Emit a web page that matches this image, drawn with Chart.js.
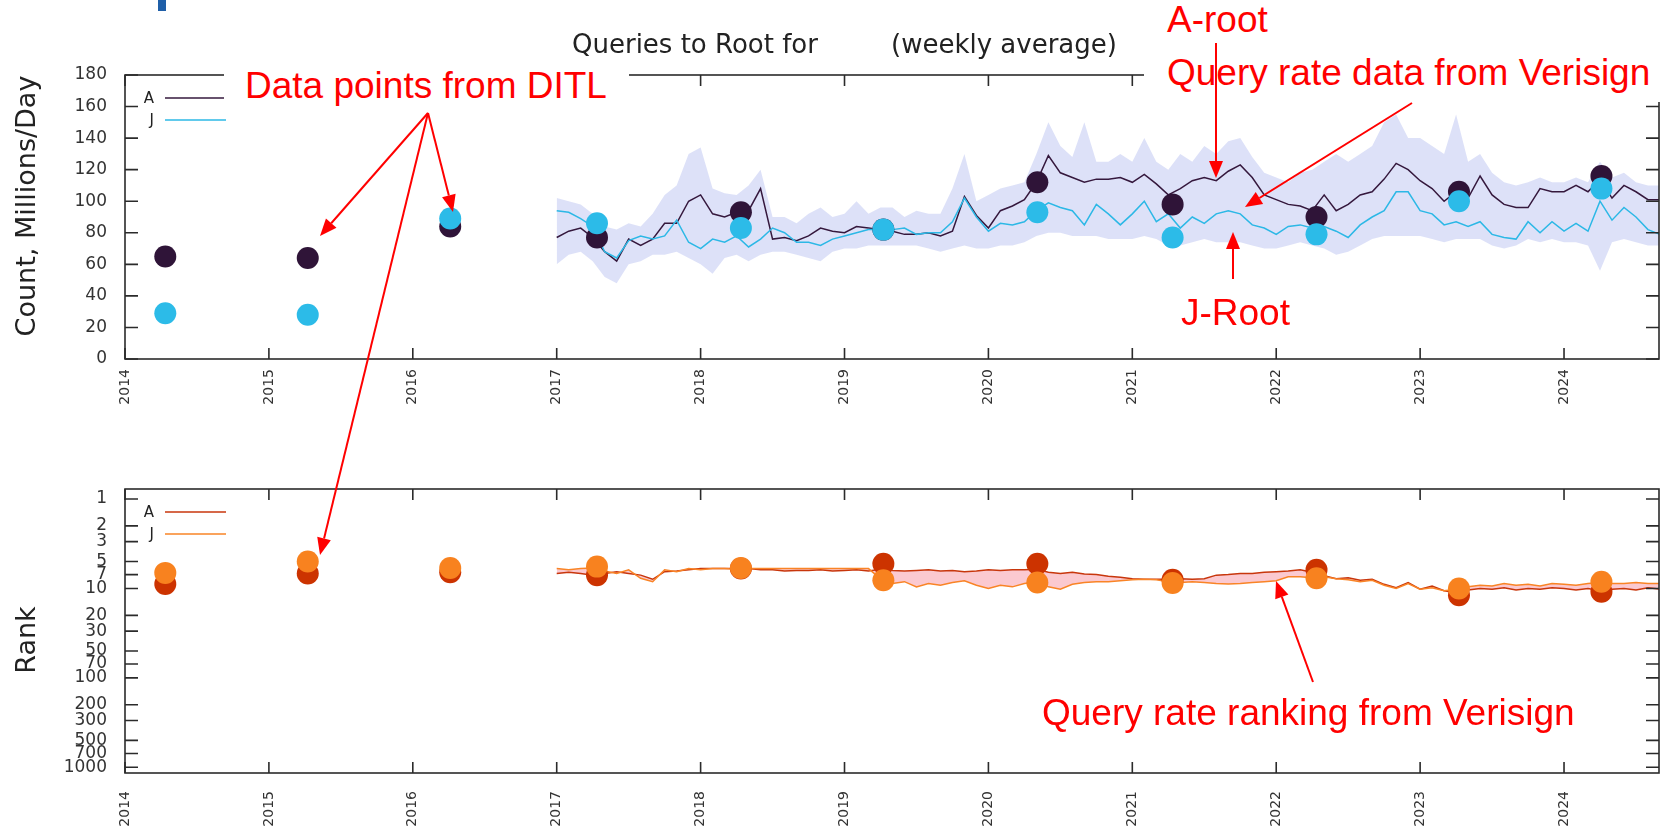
<!DOCTYPE html>
<html>
<head>
<meta charset="utf-8">
<script src="https://cdn.jsdelivr.net/npm/chart.js@4.4.1/dist/chart.umd.min.js"></script>
<style>
  body { margin:0; background:#fff; }
  #page { position:relative; width:1671px; height:836px; overflow:hidden; background:#fff; }
  canvas { position:absolute; left:0; top:0; }
  .cover { position:absolute; background:#fff; }
  .red { position:absolute; color:#ff0000; font-family:"Liberation Sans", Arial, sans-serif; font-size:37px; line-height:37px; white-space:nowrap; }
  .ttl { position:absolute; font-family:"DejaVu Sans", sans-serif; font-size:26px; line-height:26px; color:#222; white-space:nowrap; }
  .ylab { position:absolute; font-family:"DejaVu Sans", sans-serif; font-size:27px; color:#222; white-space:nowrap; transform:translate(-50%,-50%) rotate(-90deg); }
  svg { position:absolute; left:0; top:0; }
</style>
</head>
<body>
<div id="page">
  <canvas id="countChart" width="1671" height="836"></canvas>
  <canvas id="rankChart" width="1671" height="836"></canvas>

  <div class="cover" style="left:0;top:0;width:1671px;height:35px"></div>
  <div class="cover" style="left:224px;top:62px;width:405px;height:48px"></div>
  <div class="cover" style="left:1144px;top:0;width:527px;height:102px"></div>
  <div style="position:absolute;left:158px;top:0;width:8px;height:11px;background:#1f5fa8"></div>

  <div class="ttl" style="left:572px;top:31px">Queries to Root for</div>
  <div class="ttl" style="left:891px;top:31px">(weekly average)</div>

  <div class="ylab" style="left:25px;top:206px">Count, Millions/Day</div>
  <div class="ylab" style="left:25px;top:640px">Rank</div>

  <div class="red" style="left:245px;top:67px">Data points from DITL</div>
  <div class="red" style="left:1167px;top:1px">A-root</div>
  <div class="red" style="left:1167px;top:54px">Query rate data from Verisign</div>
  <div class="red" style="left:1181px;top:294px">J-Root</div>
  <div class="red" style="left:1042px;top:694px">Query rate ranking from Verisign</div>

  <svg id="arrows" width="1671" height="836"></svg>
</div>

<script>
// DITL sample dates (decimal years) and values
var ditlYears  = [2014.28, 2015.27, 2016.26, 2017.28, 2018.28, 2019.27, 2020.34, 2021.28, 2022.28, 2023.27, 2024.26];
var ditlCountA = [65, 64, 84, 77, 93, 82, 112, 98, 90, 106, 116];
var ditlCountJ = [29, 28, 89, 86, 83, 82, 93, 77, 79, 100, 108];
var ditlRankA  = [8.9, 6.8, 6.6, 7.1, 6.0, 5.3, 5.3, 8.0, 6.2, 11.9, 10.9];
var ditlRankJ  = [6.7, 5.0, 5.9, 5.7, 5.9, 8.1, 8.6, 8.7, 7.7, 10.0, 8.4];

// Verisign series, one value per month from Jan 2017 to Sep 2024
var countA = [
  77, 81, 83, 77, 68, 62, 76, 72, 76, 86, 86, 100,
  104, 92, 90, 93, 94, 108, 76, 77, 75, 78, 83, 81,
  80, 84, 83, 82, 81, 79, 79, 80, 78, 81, 103, 91,
  83, 94, 97, 101, 112, 129, 118, 115, 112, 114, 114, 115,
  112, 117, 111, 104, 108, 113, 115, 113, 119, 123, 115, 104,
  101, 98, 97, 94, 104, 94, 98, 104, 106, 114, 124, 120,
  113, 108, 100, 106, 102, 116, 104, 98, 96, 96, 108, 106,
  106, 110, 106, 114, 102, 110, 106, 101, 101];
var countJ = [
  94, 93, 89, 84, 68, 64, 75, 78, 76, 78, 88, 74,
  70, 76, 74, 78, 71, 76, 83, 80, 74, 74, 72, 76,
  78, 80, 82, 82, 82, 83, 79, 80, 80, 87, 102, 90,
  81, 86, 85, 87, 94, 99, 96, 94, 85, 98, 92, 85,
  92, 100, 87, 92, 83, 90, 86, 92, 94, 92, 85, 83,
  79, 84, 85, 83, 84, 81, 77, 85, 90, 94, 106, 106,
  94, 92, 85, 87, 84, 87, 79, 77, 76, 87, 80, 87,
  81, 86, 81, 100, 88, 96, 90, 82, 79];
var bandHigh = [
  102, 100, 98, 92, 84, 82, 86, 84, 92, 104, 110, 130,
  134, 108, 105, 104, 110, 120, 90, 90, 86, 92, 96, 90,
  92, 100, 92, 96, 96, 90, 94, 92, 92, 108, 130, 100,
  104, 108, 110, 112, 130, 150, 135, 128, 150, 125, 125, 130,
  125, 140, 125, 120, 130, 125, 135, 130, 138, 140, 128, 118,
  115, 112, 118, 120, 125, 130, 125, 130, 135, 150, 155, 140,
  140, 135, 130, 155, 125, 130, 118, 112, 110, 112, 115, 112,
  112, 115, 112, 125, 115, 118, 112, 110, 110];
var bandLow = [
  60, 66, 68, 62, 52, 48, 60, 62, 66, 66, 68, 64,
  60, 54, 64, 66, 62, 66, 68, 68, 66, 64, 62, 68,
  70, 70, 72, 72, 72, 72, 72, 70, 68, 70, 72, 70,
  70, 72, 72, 74, 78, 80, 80, 78, 78, 78, 76, 76,
  76, 78, 76, 72, 72, 74, 76, 74, 74, 74, 72, 70,
  70, 72, 74, 72, 70, 66, 68, 72, 76, 78, 78, 78,
  78, 76, 74, 76, 76, 76, 72, 70, 72, 76, 74, 76,
  74, 74, 72, 56, 74, 76, 74, 72, 72];
var rankA = [
  6.8, 6.6, 6.8, 7.1, 6.8, 6.5, 6.8, 7.1, 7.9, 6.5, 6.4, 6.2,
  6.0, 6.0, 6.0, 6.0, 6.0, 6.2, 6.2, 6.4, 6.3, 6.3, 6.2, 6.4,
  6.3, 6.2, 6.4, 6.1, 6.3, 6.4, 6.3, 6.2, 6.4, 6.3, 6.5, 6.4,
  6.2, 6.3, 6.2, 6.2, 6.1, 6.6, 6.8, 6.6, 6.9, 7.0, 7.3, 7.5,
  7.8, 7.9, 7.9, 7.9, 7.8, 7.9, 7.8, 7.1, 7.0, 6.8, 6.8, 6.6,
  6.5, 6.4, 6.2, 6.6, 7.2, 7.8, 7.6, 8.1, 7.9, 9.0, 9.8, 8.6,
  10.2, 9.4, 10.6, 11.2, 10.4, 10.0, 10.2, 9.8, 10.4, 10.0, 10.2, 9.8,
  10.0, 10.4, 10.0, 10.6, 10.2, 10.0, 10.4, 9.8, 10.2];
var rankJ = [
  6.0, 6.2, 6.0, 5.9, 6.4, 6.8, 6.2, 7.7, 8.4, 6.2, 6.5, 6.0,
  6.2, 6.0, 6.0, 6.1, 6.0, 6.0, 6.0, 6.0, 6.0, 6.0, 6.0, 6.0,
  6.0, 6.0, 6.0, 7.8, 8.8, 8.4, 9.6, 8.8, 9.2, 8.6, 8.2, 9.2,
  10.0, 9.2, 9.6, 8.8, 8.4, 9.6, 10.2, 9.0, 8.6, 8.4, 8.4, 8.2,
  8.0, 7.9, 8.0, 8.4, 8.6, 8.4, 8.6, 8.8, 8.9, 8.8, 8.6, 8.4,
  8.2, 7.4, 7.4, 7.6, 7.4, 7.8, 8.0, 8.4, 8.1, 9.2, 10.0, 8.8,
  10.2, 9.8, 10.6, 10.2, 9.6, 9.2, 9.4, 8.8, 9.2, 9.0, 9.4, 8.8,
  9.0, 9.2, 8.8, 8.6, 8.8, 8.8, 8.6, 8.8, 8.8];

var countTicks = [0, 20, 40, 60, 80, 100, 120, 140, 160, 180];
var rankTicks = [1, 2, 3, 5, 7, 10, 20, 30, 50, 70, 100, 200, 300, 500, 700, 1000];

function pts(xs, ys) { return ys.map(function(v, i) { return {x: xs[i], y: v}; }); }
function monthly(vals) { return vals.map(function(v, i) { return {x: 2017 + i / 12, y: v}; }); }

// gnuplot-like frame with inward ticks + small key in the corner
var frameTicks = {
  id: 'frameTicks',
  afterDatasetsDraw: function(chart, args, opts) {
    var ctx = chart.ctx, a = chart.chartArea;
    var xs = chart.scales.x, ys = chart.scales.y;
    ctx.save();
    ctx.strokeStyle = '#2b2b2b';
    ctx.lineWidth = 1.6;
    ctx.strokeRect(a.left, a.top, a.right - a.left, a.bottom - a.top);
    ctx.beginPath();
    xs.ticks.forEach(function(t) {
      var px = xs.getPixelForValue(t.value);
      ctx.moveTo(px, a.bottom); ctx.lineTo(px, a.bottom - 11);
      ctx.moveTo(px, a.top); ctx.lineTo(px, a.top + 11);
    });
    ys.ticks.forEach(function(t) {
      var py = ys.getPixelForValue(t.value);
      ctx.moveTo(a.left, py); ctx.lineTo(a.left + 13, py);
      ctx.moveTo(a.right, py); ctx.lineTo(a.right - 13, py);
    });
    ctx.stroke();
    ctx.font = '15px "DejaVu Sans"';
    ctx.textAlign = 'right';
    ctx.textBaseline = 'middle';
    opts.items.forEach(function(it, i) {
      var y = a.top + 23 + i * 22;
      ctx.fillStyle = '#222';
      ctx.fillText(it.label, a.left + 29, y + 1);
      ctx.strokeStyle = it.color;
      ctx.lineWidth = 1.5;
      ctx.beginPath();
      ctx.moveTo(a.left + 40, y); ctx.lineTo(a.left + 101, y);
      ctx.stroke();
    });
    ctx.restore();
  }
};

function xAxis(pad, h) {
  return {
    type: 'linear', min: 2014, max: 2024.66,
    grid: { display: false, drawTicks: false }, border: { display: false },
    ticks: { stepSize: 1, includeBounds: false, autoSkip: false, maxRotation: 90, minRotation: 90,
             padding: pad, color: '#333', font: { family: 'DejaVu Sans', size: 14 },
             callback: function(v) { return String(v); } },
    afterFit: function(s) { s.height = h; }
  };
}
var yTickFont = { family: 'DejaVu Sans', size: 17 };

new Chart(document.getElementById('countChart'), {
  type: 'line',
  data: { datasets: [
    { data: pts(ditlYears, ditlCountJ), showLine: false, pointRadius: 11, pointBorderWidth: 0, pointBackgroundColor: '#2cbbe8', order: 1 },
    { data: pts(ditlYears, ditlCountA), showLine: false, pointRadius: 11, pointBorderWidth: 0, pointBackgroundColor: '#2f1438', order: 2 },
    { data: monthly(countJ), borderColor: '#2cb8e6', borderWidth: 1.5, pointRadius: 0, order: 4 },
    { data: monthly(countA), borderColor: '#35183d', borderWidth: 1.5, pointRadius: 0, order: 5 },
    { data: monthly(bandLow), borderWidth: 0, pointRadius: 0, fill: false, order: 10 },
    { data: monthly(bandHigh), borderWidth: 0, pointRadius: 0, fill: '-1', backgroundColor: 'rgba(208,213,245,0.72)', order: 9 }
  ]},
  options: {
    animation: false, responsive: false,
    layout: { padding: { left: 0, top: 75, right: 12, bottom: 416 } },
    plugins: { legend: { display: false }, tooltip: { enabled: false },
               filler: { drawTime: 'beforeDatasetsDraw' },
               frameTicks: { items: [{ label: 'A', color: '#35183d' }, { label: 'J', color: '#2cb8e6' }] } },
    scales: {
      x: xAxis(10, 61),
      y: { min: 0, max: 180, grid: { display: false, drawTicks: false }, border: { display: false },
           afterBuildTicks: function(s) { s.ticks = countTicks.map(function(v) { return { value: v }; }); },
           ticks: { padding: 18, color: '#333', font: yTickFont, callback: function(v) { return String(v); } },
           afterFit: function(s) { s.width = 125; } }
    }
  },
  plugins: [frameTicks]
});

new Chart(document.getElementById('rankChart'), {
  type: 'line',
  data: { datasets: [
    { data: pts(ditlYears, ditlRankJ), showLine: false, pointRadius: 11, pointBorderWidth: 0, pointBackgroundColor: '#f8821f', order: 1 },
    { data: pts(ditlYears, ditlRankA), showLine: false, pointRadius: 11, pointBorderWidth: 0, pointBackgroundColor: '#cc3300', order: 2 },
    { data: monthly(rankA), borderColor: '#c8360c', borderWidth: 1.5, pointRadius: 0, fill: false, order: 5 },
    { data: monthly(rankJ), borderColor: '#f98426', borderWidth: 1.5, pointRadius: 0, fill: '-1', backgroundColor: 'rgba(250,178,188,0.7)', order: 4 }
  ]},
  options: {
    animation: false, responsive: false,
    layout: { padding: { left: 0, top: 489, right: 12, bottom: 0 } },
    plugins: { legend: { display: false }, tooltip: { enabled: false },
               filler: { drawTime: 'beforeDatasetsDraw' },
               frameTicks: { items: [{ label: 'A', color: '#c8360c' }, { label: 'J', color: '#f98426' }] } },
    scales: {
      x: xAxis(18, 63),
      y: { type: 'logarithmic', reverse: true, min: 0.773, max: 1158,
           grid: { display: false, drawTicks: false }, border: { display: false },
           afterBuildTicks: function(s) { s.ticks = rankTicks.map(function(v) { return { value: v }; }); },
           ticks: { autoSkip: false, padding: 18, color: '#333', font: yTickFont, callback: function(v) { return String(v); } },
           afterFit: function(s) { s.width = 125; } }
    }
  },
  plugins: [frameTicks]
});

// red call-out arrows
var arrows = [
  [428, 113, 320, 236], [428, 113, 453, 212], [428, 113, 320, 555],
  [1216, 43, 1216, 178], [1412, 103, 1245, 207], [1233, 279, 1233, 232], [1313, 682, 1276, 581]
];
var svg = '';
arrows.forEach(function(a) {
  var dx = a[2] - a[0], dy = a[3] - a[1], len = Math.sqrt(dx * dx + dy * dy);
  var ux = dx / len, uy = dy / len, hl = 17, hw = 7;
  var bx = a[2] - ux * hl, by = a[3] - uy * hl;
  svg += '<line x1="' + a[0] + '" y1="' + a[1] + '" x2="' + bx + '" y2="' + by + '" stroke="#ff0000" stroke-width="2"/>';
  svg += '<polygon fill="#ff0000" points="' + a[2] + ',' + a[3] + ' ' + (bx - uy * hw) + ',' + (by + ux * hw) + ' ' + (bx + uy * hw) + ',' + (by - ux * hw) + '"/>';
});
document.getElementById('arrows').innerHTML = svg;
</script>
</body>
</html>
